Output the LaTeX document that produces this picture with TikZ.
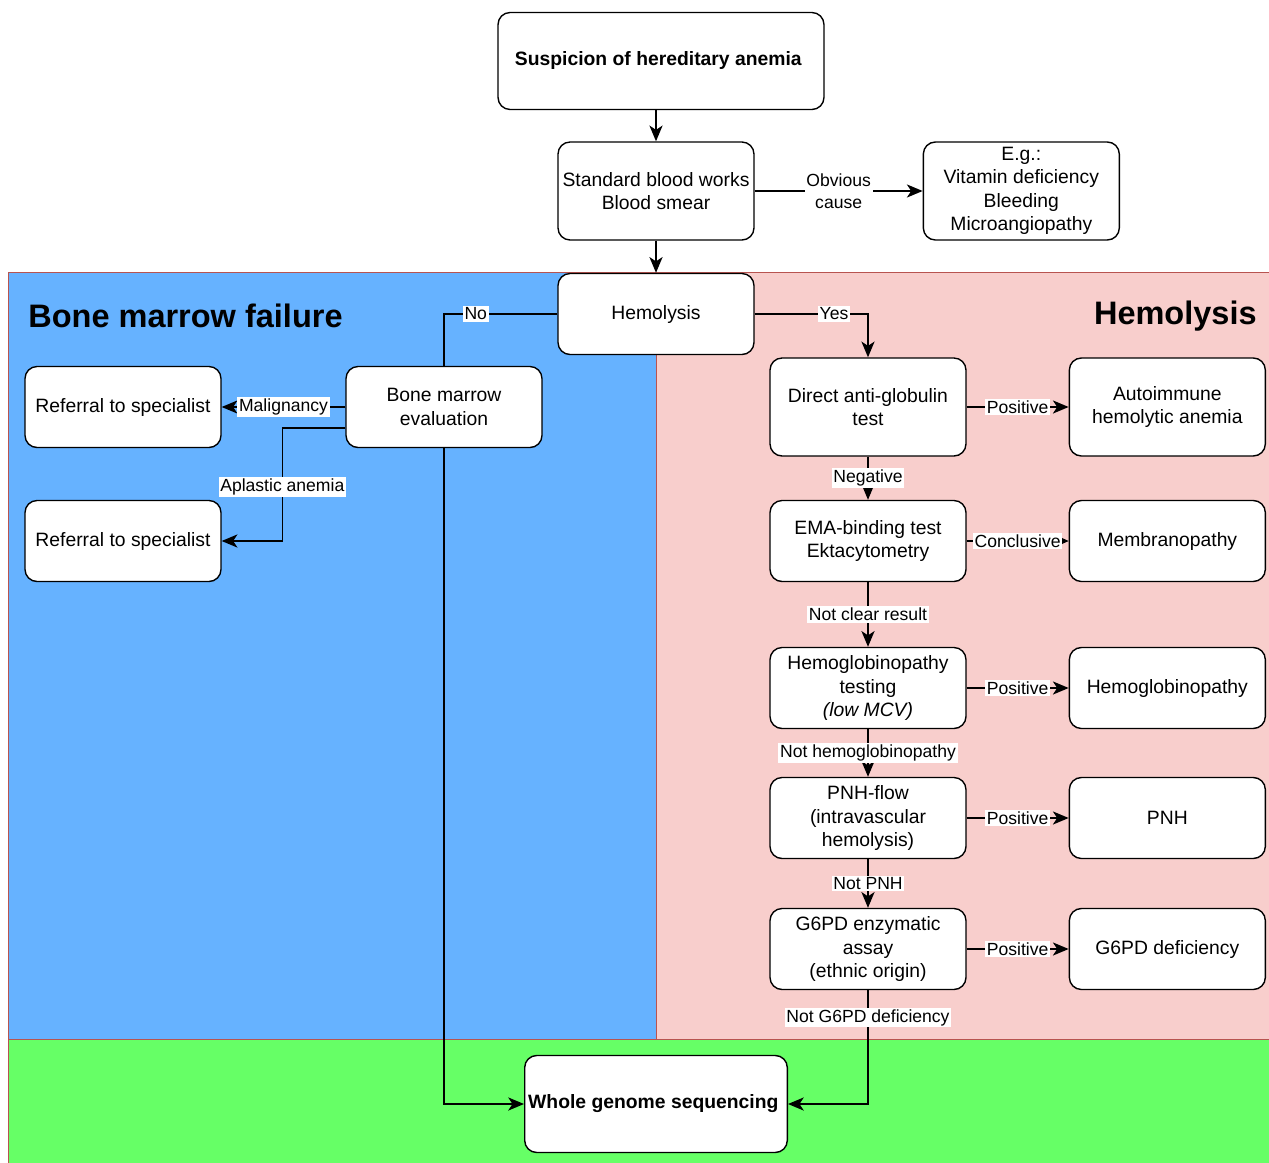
\documentclass[tikz,border=0pt]{standalone}
\usepackage{fontspec}
\setmainfont{Liberation Sans}
\usepackage{tikz}
\usetikzlibrary{
  arrows.meta,
  positioning,
  calc
}
\definecolor{bmfblue}{RGB}{102,178,255}
\definecolor{hemopink}{RGB}{248,206,204}
\definecolor{wgsgreen}{RGB}{102,255,102}
\definecolor{zoneline}{RGB}{184,84,80}

\begin{document}
\begin{tikzpicture}[
            x=0.02cm, y=-0.02cm,
            blk/.style={draw=black, line width=0.8pt, fill=white, rounded corners=0.24cm, align=center,
                        minimum width=3.92cm, minimum height=1.62cm, inner sep=2pt,
                        font=\fontsize{11}{13.4}\selectfont},
            tall/.style={blk, minimum height=1.96cm},
            lbl/.style={fill=white, inner sep=1pt, align=center, font=\fontsize{10}{12.4}\selectfont},
            zone/.style={draw=zoneline, line width=0.5pt},
            ttl/.style={inner sep=0pt, font=\fontsize{18.5}{22}\selectfont\bfseries},
            lnk/.style={draw=black, line width=0.8pt},
            arr/.style={lnk, -{Stealth[length=9pt,width=7.5pt,inset=2.5pt]}},
            sarr/.style={lnk, -{Stealth[length=4.5pt,width=4pt,inset=1pt]}}
        ]
            \useasboundingbox (0,0) rectangle (1269,1163);
            % Zones
            \fill[bmfblue] (8,272) rectangle (656,1039);
            \fill[hemopink] (656,272) rectangle (1269,1039);
            \fill[wgsgreen] (8,1039) rectangle (1269,1163);
            \draw[zone] (8,1163) -- (8,272) -- (1269,272);
            \draw[zone] (656,272) -- (656,1039);
            \draw[zone] (8,1039) -- (1269,1039);
            \node[ttl, anchor=west] (bmftitle) at (28,316) {Bone marrow failure};
            \node[ttl, anchor=east] (hemtitle) at (1257,316) {Hemolysis};

            % Entry
            \node[tall, minimum width=6.52cm, minimum height=1.94cm, font=\fontsize{11}{13.4}\selectfont\bfseries] (susp) at (661,61) {
                Suspicion of hereditary anemia
            };
            \node[tall] (std) at (656,191) {
                Standard blood works\\Blood smear
            };
            \node[tall, right=3.36cm of std] (eg) {
                E.g.:\\Vitamin deficiency\\Bleeding\\Microangiopathy
            };
            \node[blk] (hem) at (656,314) {Hemolysis};

            % Bone marrow failure branch
            \node[blk] (bme) at (444,407) {Bone marrow\\evaluation};
            \node[blk] (ref1) at (123,407) {Referral to specialist};
            \node[blk] (ref2) at (123,541) {Referral to specialist};

            % Hemolysis branch
            \node[tall] (dat) at (868,407) {Direct anti-globulin\\test};
            \node[tall, right=2.04cm of dat] (aiha) {Autoimmune\\hemolytic anemia};
            \node[blk] (ema) at (868,541) {EMA-binding test\\Ektacytometry};
            \node[blk, right=2.04cm of ema] (memb) {Membranopathy};
            \node[blk] (hbt) at (868,688) {Hemoglobinopathy\\testing\\\textit{(low MCV)}};
            \node[blk, right=2.04cm of hbt] (hbp) {Hemoglobinopathy};
            \node[blk] (pnhf) at (868,818) {PNH-flow\\(intravascular\\hemolysis)};
            \node[blk, right=2.04cm of pnhf] (pnh) {PNH};
            \node[blk] (g6pd) at (868,949) {G6PD enzymatic\\assay\\(ethnic origin)};
            \node[blk, right=2.04cm of g6pd] (g6pdd) {G6PD deficiency};

            % Sequencing
            \node[tall, minimum width=5.2cm, minimum height=1.94cm, font=\fontsize{11}{13.4}\selectfont\bfseries] (wgs) at (656,1104) {
                Whole genome sequencing
            };

            % Connectors
            \draw[arr] (susp.south -| std.north) -- (std.north);
            \draw[arr] (std.east) -- node[lbl] {Obvious\\cause} (eg.west);
            \draw[arr] (std.south) -- (hem.north);
            \draw[lnk] (hem.west) -| node[lbl, pos=0.36] {No} (bme.north);
            \draw[arr] (hem.east) -| node[lbl, pos=0.35] {Yes} (dat.north);
            \draw[arr] (bme.west) -- node[lbl] {Malignancy} (ref1.east);
            \draw[arr] ([yshift=-0.42cm]bme.west) -- ++(-63,0) |- node[lbl, pos=0.26] {Aplastic anemia} (ref2.east);
            \draw[arr] (bme.south) |- (wgs.west);
            \draw[arr] (dat.east) -- node[lbl] {Positive} (aiha.west);
            \draw[arr] (dat.south) -- node[lbl] {Negative} (ema.north);
            \draw[sarr] (ema.east) -- node[lbl] {Conclusive} (memb.west);
            \draw[arr] (ema.south) -- node[lbl] {Not clear result} (hbt.north);
            \draw[arr] (hbt.east) -- node[lbl] {Positive} (hbp.west);
            \draw[arr] (hbt.south) -- node[lbl] {Not hemoglobinopathy} (pnhf.north);
            \draw[arr] (pnhf.east) -- node[lbl] {Positive} (pnh.west);
            \draw[arr] (pnhf.south) -- node[lbl] {Not PNH} (g6pd.north);
            \draw[arr] (g6pd.east) -- node[lbl] {Positive} (g6pdd.west);
            \draw[arr] (g6pd.south) |- node[lbl, pos=0.12] {Not G6PD deficiency} (wgs.east);
        \end{tikzpicture}
\end{document}
